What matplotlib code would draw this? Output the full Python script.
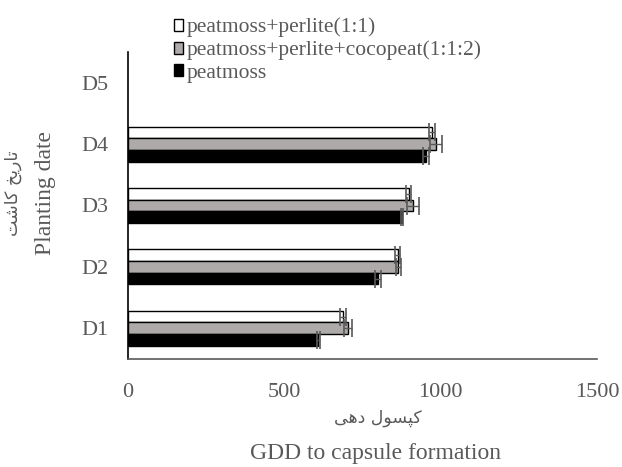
import numpy as np
import matplotlib
matplotlib.use("Agg")
import matplotlib.pyplot as plt


# GDD needed to reach capsule formation, per planting date and substrate
dates = ["D1", "D2", "D3", "D4", "D5"]

peat_perlite = [688, 862, 898, 972, np.nan]
peat_perlite_err = [10, 8, 8, 10, np.nan]

peat_perlite_coco = [703, 864, 912, 985, np.nan]
peat_perlite_coco_err = [12, 8, 20, 18, np.nan]

peatmoss = [609, 800, 876, 952, np.nan]
peatmoss_err = [4, 10, 4, 10, np.nan]

series_labels = [
    "peatmoss+perlite(1:1)",
    "peatmoss+perlite+cocopeat(1:1:2)",
    "peatmoss",
]

x_ticks = [0, 500, 1000, 1500]

ylabel_fa = "تاریخ کاشت"
xlabel_fa = "کپسول دهی"


# matplotlib has no arabic shaping, so pick the presentation forms by hand
FORMS = {
    # letter: (isolated, final, initial, medial)
    "ت": ("\ufe95", "\ufe96", "\ufe97", "\ufe98"),
    "ا": ("\ufe8d", "\ufe8e", None, None),
    "ر": ("\ufead", "\ufeae", None, None),
    "ی": ("\ufbfc", "\ufbfd", "\ufbfe", "\ufbff"),
    "خ": ("\ufea5", "\ufea6", "\ufea7", "\ufea8"),
    "ک": ("\ufb8e", "\ufb8f", "\ufb90", "\ufb91"),
    "ش": ("\ufeb5", "\ufeb6", "\ufeb7", "\ufeb8"),
    "پ": ("\ufb56", "\ufb57", "\ufb58", "\ufb59"),
    "س": ("\ufeb1", "\ufeb2", "\ufeb3", "\ufeb4"),
    "و": ("\ufeed", "\ufeee", None, None),
    "ل": ("\ufedd", "\ufede", "\ufedf", "\ufee0"),
    "د": ("\ufea9", "\ufeaa", None, None),
    "ه": ("\ufee9", "\ufeea", "\ufeeb", "\ufeec"),
}


def shape_fa(text):
    out = []
    for i, ch in enumerate(text):
        if ch not in FORMS:
            out.append(ch)
            continue
        forms = FORMS[ch]
        prev = text[i - 1] if i > 0 else ""
        nxt = text[i + 1] if i + 1 < len(text) else ""
        join_prev = prev in FORMS and FORMS[prev][2] is not None
        join_next = nxt in FORMS and forms[2] is not None
        if join_prev and join_next:
            out.append(forms[3])
        elif join_prev:
            out.append(forms[1])
        elif join_next:
            out.append(forms[2])
        else:
            out.append(forms[0])
    return "".join(reversed(out))


text_color = "#595959"
serif = ["Liberation Serif", "DejaVu Serif"]

plt.rcParams["font.family"] = serif

fig = plt.figure(figsize=(6.22, 4.67), dpi=100)
ax = fig.add_axes([128 / 622, 1 - 359 / 467, 469 / 622, 307 / 467])

y = np.arange(1, len(dates) + 1)
h = 0.19

ax.barh(
    y + h, peat_perlite, height=h,
    color="white", edgecolor="black", linewidth=1,
    label=series_labels[0], zorder=2,
)
ax.barh(
    y, peat_perlite_coco, height=h,
    color="#aeaaaa", edgecolor="black", linewidth=1,
    label=series_labels[1], zorder=2,
)
ax.barh(
    y - h, peatmoss, height=h,
    color="black", edgecolor="black", linewidth=1,
    label=series_labels[2], zorder=2,
)

# error bars on top of each bar end
for offset, vals, errs in [
    (h, peat_perlite, peat_perlite_err),
    (0, peat_perlite_coco, peat_perlite_coco_err),
    (-h, peatmoss, peatmoss_err),
]:
    ax.errorbar(
        vals, y + offset, xerr=errs,
        fmt="none", ecolor="#595959", elinewidth=1,
        capsize=6.5, capthick=1.2, zorder=3,
    )

ax.set_xlim(0, 1500)
ax.set_ylim(0.5, 5.5)
ax.set_xticks(x_ticks)
ax.set_yticks(y)
ax.set_yticklabels(dates)

ax.tick_params(axis="both", length=0, labelsize=16, labelcolor=text_color)
ax.tick_params(axis="x", pad=17)
ax.tick_params(axis="y", pad=14)

ax.spines["top"].set_visible(False)
ax.spines["right"].set_visible(False)
ax.spines["left"].set_color("black")
ax.spines["left"].set_linewidth(1.2)
ax.spines["bottom"].set_color("#595959")
ax.spines["bottom"].set_linewidth(1.2)

# axis titles, persian line plus english line
fig.text(
    376 / 622, 1 - 453 / 467, "GDD to capsule formation",
    ha="center", va="center", fontsize=17, color=text_color,
)
fig.text(
    378 / 622, 1 - 418 / 467, shape_fa(xlabel_fa),
    ha="center", va="center", fontsize=12.5, color=text_color,
    family=["DejaVu Sans"],
)
fig.text(
    45 / 622, 1 - 193 / 467, "Planting date",
    ha="center", va="center", rotation=90, fontsize=17, color=text_color,
)
fig.text(
    13 / 622, 1 - 193 / 467, shape_fa(ylabel_fa),
    ha="center", va="center", rotation=90, fontsize=12.5, color=text_color,
    family=["DejaVu Sans"],
)

ax.legend(
    loc="upper left",
    bbox_to_anchor=(163 / 622, 1 - 7 / 467),
    bbox_transform=fig.transFigure,
    frameon=False,
    fontsize=15.5,
    labelcolor=text_color,
    handlelength=0.45,
    handleheight=0.45,
    handletextpad=0.15,
    labelspacing=0.15,
    borderpad=0,
)

plt.savefig("out.png", dpi=100)
plt.close()
